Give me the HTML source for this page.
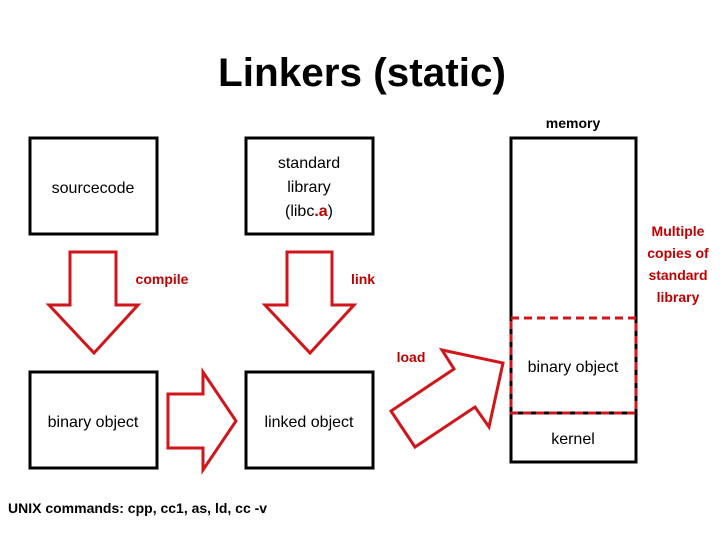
<!DOCTYPE html>
<html><head><meta charset="utf-8"><style>
html,body{margin:0;padding:0;background:#fff;}
svg{display:block;}
text{font-family:"Liberation Sans",sans-serif;}
</style></head><body>
<svg width="720" height="540" viewBox="0 0 720 540" xmlns="http://www.w3.org/2000/svg">
<text x="362" y="86" font-size="40" font-weight="bold" text-anchor="middle" textLength="288" lengthAdjust="spacingAndGlyphs">Linkers (static)</text>
<text x="573" y="128" font-size="14" font-weight="bold" text-anchor="middle">memory</text>
<g fill="none" stroke="#000" stroke-width="3">
<rect x="30" y="138" width="127" height="96"/>
<rect x="246" y="138" width="127" height="96"/>
<rect x="30" y="372" width="127" height="96"/>
<rect x="246" y="372" width="127" height="96"/>
<rect x="511" y="138" width="125" height="324"/>
<line x1="511" y1="413" x2="636" y2="413"/>
</g>
<rect x="511" y="318" width="125" height="95" fill="none" stroke="#d0161b" stroke-width="3" stroke-dasharray="8,5"/>
<g font-size="16" text-anchor="middle" fill="#000">
<text x="93" y="193">sourcecode</text>
<text x="309" y="168">standard</text>
<text x="309" y="192">library</text>
<text x="309" y="216">(libc<tspan fill="#c00000" font-weight="bold">.a</tspan>)</text>
<text x="93" y="427">binary object</text>
<text x="309" y="427">linked object</text>
<text x="573" y="372">binary object</text>
<text x="573" y="444">kernel</text>
</g>
<g fill="none" stroke="#d0161b" stroke-width="3" stroke-linejoin="miter">
<polygon points="70,252 116,252 116,305 138,305 94,353 49,305 70,305"/>
<polygon points="287,252 332,252 332,305 354,305 310,353 265,305 287,305"/>
<polygon points="168,394 203,394 203,372 236,421 203,470 203,448 168,448"/>
<polygon points="391,411 415,447 475,407 489,427 503,363 442,350 454,369"/>
</g>
<g font-size="14" font-weight="bold" fill="#c00000">
<text x="162" y="284" text-anchor="middle">compile</text>
<text x="363" y="284" text-anchor="middle">link</text>
<text x="411" y="362" text-anchor="middle">load</text>
<text x="678" y="236" text-anchor="middle">Multiple</text>
<text x="678" y="258" text-anchor="middle">copies of</text>
<text x="678" y="280" text-anchor="middle">standard</text>
<text x="678" y="302" text-anchor="middle">library</text>
</g>
<text x="8" y="513" font-size="14" font-weight="bold">UNIX commands: cpp, cc1, as, ld, cc -v</text>
</svg>
</body></html>
